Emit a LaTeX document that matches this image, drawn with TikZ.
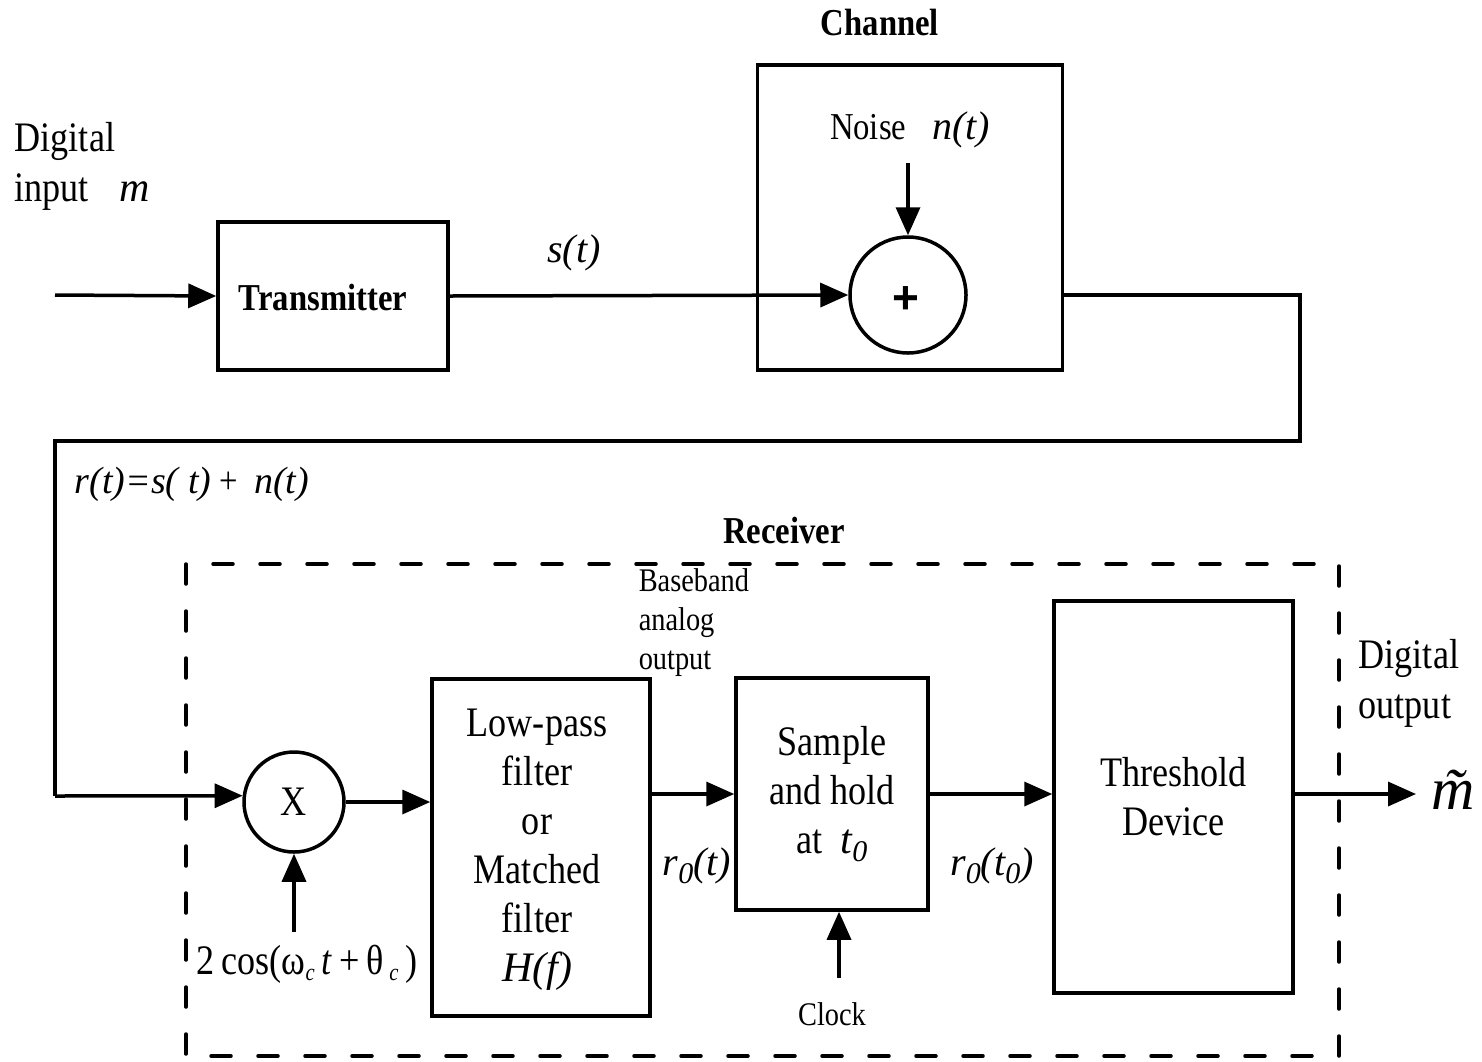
\documentclass[tikz,border=0pt]{standalone}
\usepackage{fontspec}
\setmainfont{Liberation Serif}[FakeStretch=0.86]
\newfontfamily\rawserif{Liberation Serif}
\newfontfamily\plusfont{Liberation Sans}
\usetikzlibrary{arrows.meta,shapes.geometric}
\newcommand{\fs}[1]{\fontsize{#1}{#1}\selectfont}
\newcommand{\ital}[1]{{\rawserif\itshape #1}}
\newcommand{\zsub}[1]{\raisebox{-8pt}{\fontsize{30}{30}\selectfont #1}}
\begin{document}
\begin{tikzpicture}[x=1pt,y=-1pt,line width=3.5pt,
  blk/.style={draw,line width=3.5pt,inner sep=0pt,align=center},
  arr/.style={-{Triangle[length=28pt,width=24pt]},line width=3.5pt},
  wire/.style={line width=3.5pt},
  lbl/.style={inner sep=0pt,align=center},
  boxtxt/.style={font=\fontsize{42}{49}\selectfont}]
\useasboundingbox (0,0) rectangle (1482,1061);

% ---- top row ----
\node[lbl,anchor=west,align=left,font=\fontsize{42}{50}\selectfont] (din) at (13,166) {Digital\\input\hspace{30pt}\ital{m}};
\coordinate (in) at (55,295);
\node[blk,minimum width=230pt,minimum height=148pt] (tx) at (333,296) {};
\node[lbl,font=\bfseries\fs{38}] (txt) at (323,297) {Transmitter};
\node[lbl,font=\fs{40}] (st) at (574,253) {\ital{s(t)}};
\node[blk,minimum width=305pt,minimum height=305pt] (ch) at (910,217.5) {};
\node[lbl,font=\bfseries\fs{38}] (chl) at (880,22) {Channel};
\node[draw,circle,line width=3.5pt,minimum size=116pt,inner sep=0pt] (add) at (908,295) {};
\node[lbl,font=\plusfont\bfseries\fs{46}] (plus) at (906,300) {+};
\node[lbl,font=\fs{38}] (noise) at (910,130) {Noise\hspace{26pt}{\fontsize{40}{40}\selectfont\ital{n(t)}}};
\coordinate (nz) at (908,163);

\draw[arr] (in) -- (tx.west);
\draw[arr] (tx.east) -- (add.west);
\draw[arr] (nz) -- (add.north);

% feedback wire
\coordinate (c1) at (1300,295);
\coordinate (c2) at (1300,441);
\coordinate (c3) at (55,441);
\coordinate (c4) at (55,796);
\node[lbl,font=\fs{38}] (rt) at (192,484) {\ital{r(t)=s( t)} +\ \ \ital{n(t)}};

% ---- receiver ----
\node[lbl,font=\bfseries\fs{38}] (rcv) at (784,530) {Receiver};
\draw[line width=3.5pt,line cap=round,dash pattern=on 20pt off 27pt] (186,564) rectangle (1339,1056);

\node[draw,circle,line width=3.5pt,minimum size=100pt,inner sep=0pt,font=\fs{42}] (mult) at (294,802) {X};
\coordinate (cs) at (294,932);
\node[lbl,font=\fs{42}] (cosl) at (307,964) {2\,cos(ω\raisebox{-0.35ex}{\fs{24}\itshape c}\,\textit{t}\,+\,θ\raisebox{-0.35ex}{\fs{24}\itshape\ c}\,)};

\node[blk,minimum width=218pt,minimum height=337pt] (filt) at (541,847.5) {};
\node[lbl,boxtxt] (filtt) at (537,850) {Low-pass\\filter\\or\\Matched\\filter\\\ital{H(f)}};
\node[lbl,anchor=north west,align=left,font=\fontsize{33}{39}\selectfont] (bb) at (637,567) {Baseband\\analog\\output};

\node[blk,boxtxt,minimum width=192pt,minimum height=232pt] (samp) at (832,794)
  {Sample\\and hold\\at\ \ \ital{t\zsub{0}}};
\node[lbl,font=\fs{40}] (r0t) at (697,866) {\ital{r\zsub{0}(t)}};
\coordinate (clk) at (839,978);
\node[lbl,font=\fs{33}] (clkl) at (832,1014) {Clock};

\node[blk,boxtxt,minimum width=239pt,minimum height=392pt] (thr) at (1173.5,797)
  {Threshold\\Device};
\node[lbl,font=\fs{40}] (r0t0) at (992,866) {\ital{r\zsub{0}(t\zsub{0})}};
\node[lbl,anchor=west,align=left,font=\fontsize{42}{50}\selectfont] (dout) at (1357,683) {Digital\\output};
\coordinate (out) at (1416,794);
\node[lbl,font=\fs{60}] (mt) at (1453,790) {\ital{\~{m}}};

\draw[wire] (ch.east |- add.east) -- (c1) -- (c2) -- (c3) -- (c4);
\draw[arr] (c4) -- (mult.173);
\draw[arr] (cs) -- (mult.south);
\draw[arr] (mult.east) -- (filt.west |- mult.east);
\draw[arr] (filt.east |- samp.west) -- (samp.west);
\draw[arr] (clk) -- (clk |- samp.south);
\draw[arr] (samp.east) -- (thr.west |- samp.east);
\draw[arr] (thr.east |- out) -- (out);
\end{tikzpicture}
\end{document}
